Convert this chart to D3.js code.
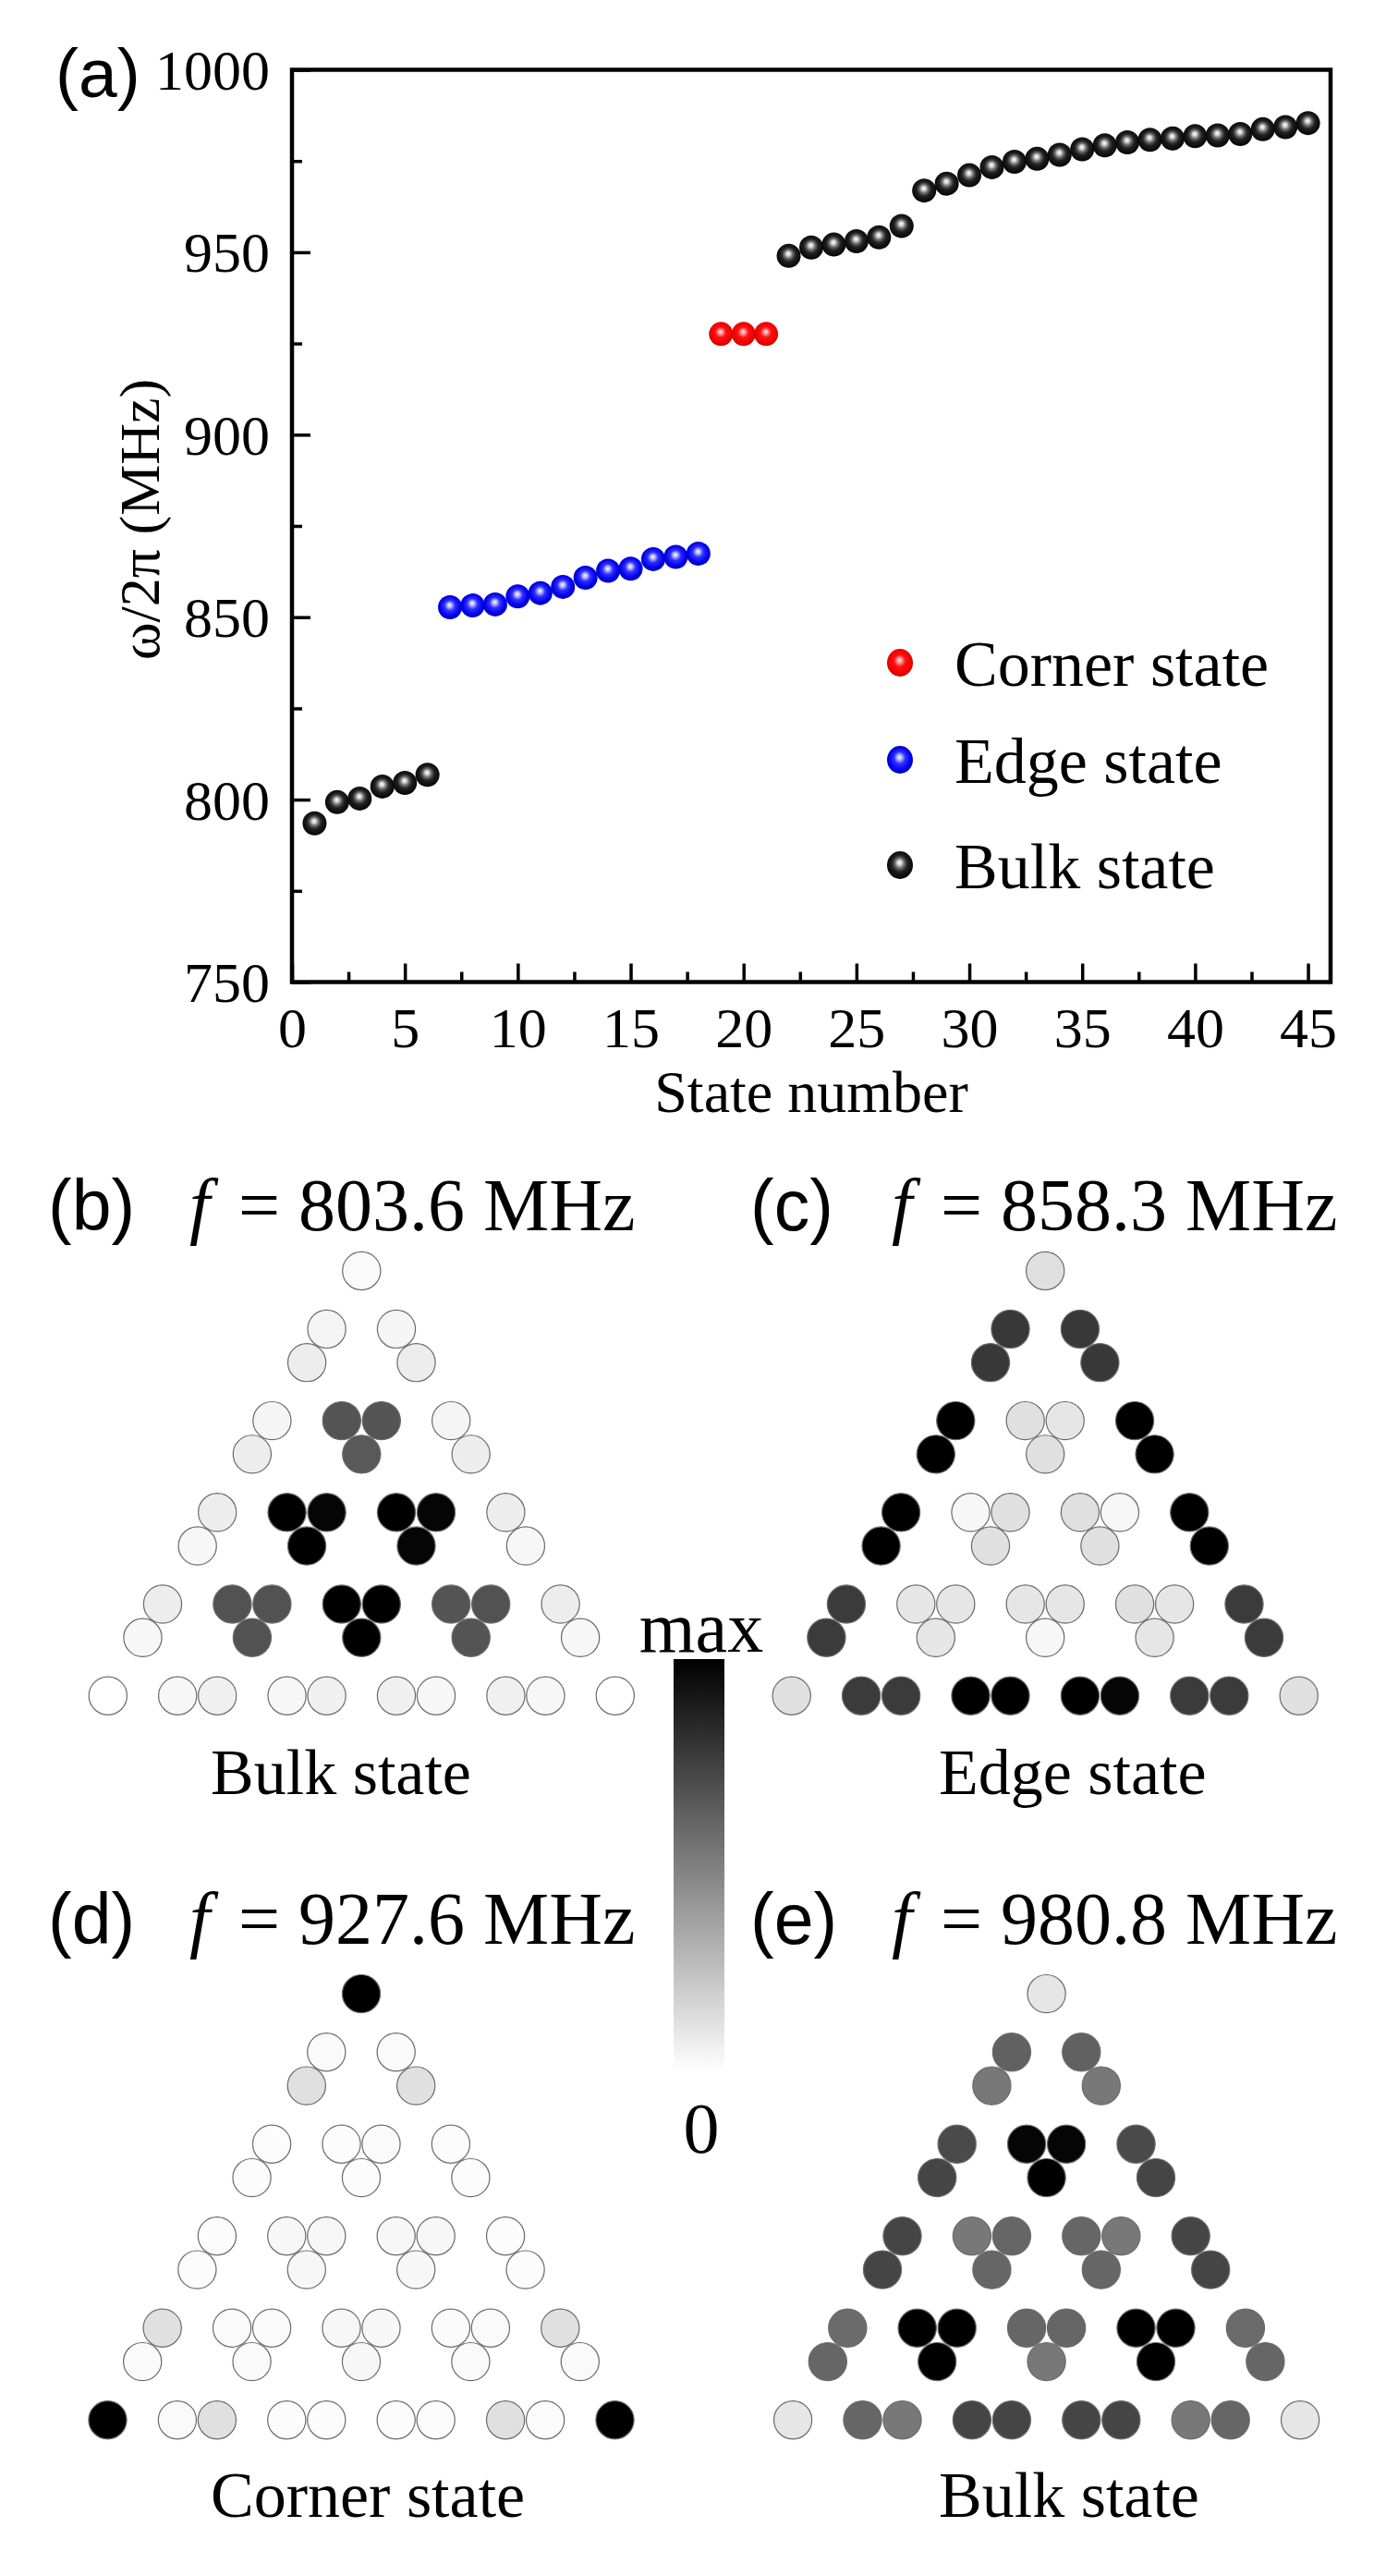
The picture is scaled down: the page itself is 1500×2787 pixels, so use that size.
<!DOCTYPE html>
<html><head><meta charset="utf-8">
<script src="https://cdn.jsdelivr.net/npm/d3@7"></script>
<style>body{margin:0;background:#fff}</style>
</head><body>
<svg id="fig" width="1500" height="2787" xmlns="http://www.w3.org/2000/svg"></svg>
<script>
// ---------------- DATA ----------------
const stateNumbers = [1,2,3,4,5,6,7,8,9,10,11,12,13,14,15,16,17,18,19,20,21,22,23,24,25,26,27,28,29,30,31,32,33,34,35,36,37,38,39,40,41,42,43,44,45];
const stateFreqs = [793.5,799.3,800.3,803.6,804.6,806.8,
  852.7,853.2,853.5,855.7,856.6,858.3,860.8,862.7,863.3,865.9,866.5,867.4,
  927.6,927.6,927.6,
  949.0,951.3,952.1,953.0,954.1,957.2,966.9,968.8,971.1,973.3,974.8,975.6,976.7,978.2,979.3,980.1,980.8,981.2,981.8,982.0,982.4,983.7,984.3,985.4];
const cornerStates = [19,20,21];
const edgeStates = [7,8,9,10,11,12,13,14,15,16,17,18];
const legendLabels = ["Corner state","Edge state","Bulk state"];
const legendKinds = ["corner","edge","bulk"];
const xTickValues = [0,5,10,15,20,25,30,35,40,45];
const xMinorTicks = [2.5,7.5,12.5,17.5,22.5,27.5,32.5,37.5,42.5];
const yTickValues = [750,800,850,900,950,1000];
const yMinorTicks = [775,825,875,925,975];

const panelLetters = ["(b)","(c)","(d)","(e)"];
const panelFreqs = ["803.6","858.3","927.6","980.8"];
const panelNames = ["Bulk state","Edge state","Corner state","Bulk state"];
// site amplitudes (0 = white, 1 = max), ordered row by row (upper sites then lower sites)
const ampB = [0.02,
  0.04,0.04, 0.07,0.07,
  0.04,0.67,0.67,0.04, 0.07,0.65,0.07,
  0.07,1.0,0.98,1.0,0.98,0.07, 0.03,1.0,0.98,0.03,
  0.07,0.68,0.68,1.0,1.0,0.67,0.68,0.07, 0.03,0.68,1.0,0.67,0.03,
  0.0,0.03,0.06,0.03,0.06,0.06,0.03,0.06,0.03,0.0];
const ampC = [0.12,
  0.78,0.78, 0.78,0.78,
  1.0,0.12,0.10,1.0, 1.0,0.12,1.0,
  1.0,0.03,0.12,0.12,0.03,1.0, 1.0,0.12,0.12,1.0,
  0.77,0.10,0.10,0.10,0.10,0.12,0.10,0.77, 0.77,0.10,0.03,0.10,0.77,
  0.12,0.77,0.77,1.0,1.0,1.0,0.98,0.77,0.77,0.12];
const ampD = [1.0,
  0.02,0.02, 0.12,0.12,
  0.01,0.01,0.02,0.01, 0.01,0.01,0.01,
  0.01,0.03,0.03,0.03,0.03,0.01, 0.01,0.03,0.03,0.01,
  0.12,0.02,0.02,0.03,0.03,0.02,0.02,0.12, 0.02,0.02,0.03,0.02,0.02,
  1.0,0.02,0.12,0.01,0.01,0.01,0.01,0.12,0.01,1.0];
const ampE = [0.10,
  0.62,0.62, 0.53,0.53,
  0.71,0.98,0.98,0.71, 0.73,1.0,0.73,
  0.73,0.53,0.60,0.60,0.53,0.73, 0.73,0.60,0.60,0.73,
  0.58,1.0,1.0,0.60,0.60,1.0,1.0,0.58, 0.60,1.0,0.53,1.0,0.60,
  0.10,0.60,0.53,0.73,0.73,0.73,0.73,0.53,0.60,0.10];
const panelAmps = [ampB, ampC, ampD, ampE];

// ---------------- STYLE / LAYOUT ----------------
const SERIF = "'Liberation Serif','Times New Roman',serif";
const SANS = "'Liberation Sans',Arial,sans-serif";
const svg = d3.select("#fig");
svg.append("rect").attr("width",1500).attr("height",2787).attr("fill","#fff");

const defs = svg.append("defs");
function sphere(id, stops){
  const g = defs.append("radialGradient").attr("id",id)
    .attr("cx","50%").attr("cy","48%").attr("r","55%").attr("fx","48%").attr("fy","40%");
  stops.forEach(s=>g.append("stop").attr("offset",s[0]).attr("stop-color",s[1]));
}
sphere("g-bulk",[["0%","#ffffff"],["16%","#d0d0d0"],["32%","#707070"],["55%","#202020"],["100%","#000000"]]);
sphere("g-edge",[["0%","#ffffff"],["18%","#b0b0ff"],["40%","#3030ff"],["75%","#0000ee"],["100%","#0000a8"]]);
sphere("g-corner",[["0%","#fff0f0"],["18%","#ff9090"],["40%","#ff1010"],["80%","#ee0000"],["100%","#b00000"]]);
const kindOf = n => cornerStates.includes(n) ? "corner" : (edgeStates.includes(n) ? "edge" : "bulk");

// ---------------- PANEL (a) ----------------
const x = d3.scaleLinear().domain([0,46]).range([316,1440]);
const y = d3.scaleLinear().domain([750,1000]).range([1062.5,75.5]);

const gx = svg.append("g").attr("transform",`translate(0,${y(750)})`)
  .call(d3.axisBottom(x).tickValues(xTickValues).tickSizeInner(-20).tickSizeOuter(0).tickPadding(26).tickFormat(d3.format("d")));
const gxm = svg.append("g").attr("transform",`translate(0,${y(750)})`)
  .call(d3.axisBottom(x).tickValues(xMinorTicks).tickSizeInner(-11).tickSizeOuter(0).tickFormat(""));
const gy = svg.append("g").attr("transform",`translate(${x(0)},0)`)
  .call(d3.axisLeft(y).tickValues(yTickValues).tickSizeInner(-20).tickSizeOuter(0).tickPadding(24).tickFormat(d3.format("d")));
const gym = svg.append("g").attr("transform",`translate(${x(0)},0)`)
  .call(d3.axisLeft(y).tickValues(yMinorTicks).tickSizeInner(-11).tickSizeOuter(0).tickFormat(""));
[gx,gxm,gy,gym].forEach(g=>{
  g.select(".domain").remove();
  g.selectAll("line").attr("stroke","#000").attr("stroke-width",3.5);
  g.selectAll("text").attr("font-family",SERIF).attr("font-size",62).attr("fill","#000");
});
gy.selectAll("text").attr("dy","0.34em");

// frame
svg.append("rect").attr("x",x(0)).attr("y",y(1000)).attr("width",x(46)-x(0)).attr("height",y(750)-y(1000))
  .attr("fill","none").attr("stroke","#000").attr("stroke-width",4.5);

// points
svg.append("g").selectAll("circle").data(stateNumbers).join("circle")
  .attr("cx",d=>x(d)).attr("cy",(d,i)=>y(stateFreqs[i])).attr("r",13)
  .attr("fill",d=>`url(#g-${kindOf(d)})`);

// axis titles
svg.append("text").attr("x",878).attr("y",1203).attr("text-anchor","middle")
  .attr("font-family",SERIF).attr("font-size",64).text("State number");
svg.append("text").attr("transform","translate(150,562) rotate(-90)").attr("text-anchor","middle").attr("dy","0.35em")
  .attr("font-family",SERIF).attr("font-size",62).text("ω/2π (MHz)");
svg.append("text").attr("x",60).attr("y",105).attr("font-family",SANS).attr("font-size",75).text("(a)");

// legend
const legendY = [717,822,936];
const lg = svg.append("g").selectAll("g").data(legendLabels).join("g")
  .attr("transform",(d,i)=>`translate(974,${legendY[i]})`);
lg.append("ellipse").attr("rx",14).attr("ry",15).attr("fill",(d,i)=>`url(#g-${legendKinds[i]})`);
lg.append("text").attr("x",59).attr("y",25).attr("font-family",SERIF).attr("font-size",70).text(d=>d);

// ---------------- PANELS (b)-(e) ----------------
const panelLayout = [
  {cx:391.3, y0:1338.7, lx:52, tb:1331, nx:228, nb:1941, dy:99.2},
  {cx:1131.2, y0:1338.7, lx:812, tb:1331, nx:1016, nb:1941, dy:99.2},
  {cx:391.0, y0:2120.7, lx:52, tb:2103, nx:228, nb:2723, dy:99.5},
  {cx:1132.6, y0:2120.7, lx:812, tb:2103, nx:1016, nb:2723, dy:99.5}
];
// lattice of trimers: row k (0..5) holds k+1 trimers; corner/edge trimers are truncated
const half = 0.1816, drop = 0.3656;
function sites(){
  const out = [];
  for(let k=0;k<=5;k++){
    for(let j=0;j<=k;j++){
      const u = j - k/2;
      if(k>0 && j>0) out.push({u:u-half, v:k});
      if(k>0 && j<k) out.push({u:u+half, v:k});
    }
    if(k<5) for(let j=0;j<=k;j++) out.push({u:j-k/2, v:k+drop});
  }
  return out;
}
const lattice = sites();
const gray = d3.scaleLinear().domain([0,1]).range(["#ffffff","#000000"]).interpolate(d3.interpolateRgb);

panelLayout.forEach((p,pi)=>{
  const xs = d3.scaleLinear().domain([0,1]).range([p.cx, p.cx+118.4]);
  const ys = d3.scaleLinear().domain([0,1]).range([p.y0, p.y0+p.dy]);
  const amps = panelAmps[pi];
  const g = svg.append("g");
  g.selectAll("circle").data(lattice).join("circle")
    .attr("cx",d=>xs(d.u)).attr("cy",d=>ys(d.v)).attr("r",20.6)
    .attr("fill",(d,i)=>gray(amps[i])).attr("stroke","#6a6a6a").attr("stroke-width",1.2);
  svg.append("text").attr("x",p.lx).attr("y",p.tb).attr("font-family",SANS).attr("font-size",77).text(panelLetters[pi]);
  svg.append("text").attr("x",p.lx+153).attr("y",p.tb).attr("font-family",SERIF).attr("font-style","italic").attr("font-size",80).text("f");
  svg.append("text").attr("x",p.lx+206).attr("y",p.tb).attr("font-family",SERIF).attr("font-size",80).text("= " + panelFreqs[pi] + " MHz");
  svg.append("text").attr("x",p.nx).attr("y",p.nb).attr("font-family",SERIF).attr("font-size",70).text(panelNames[pi]);
});

// colorbar
const cb = defs.append("linearGradient").attr("id","cbar").attr("x1",0).attr("y1",0).attr("x2",0).attr("y2",1);
cb.append("stop").attr("offset","0%").attr("stop-color",gray(1));
cb.append("stop").attr("offset","100%").attr("stop-color",gray(0));
svg.append("rect").attr("x",729).attr("y",1795).attr("width",55).attr("height",447).attr("fill","url(#cbar)");
svg.append("text").attr("x",759).attr("y",1787).attr("text-anchor","middle").attr("font-family",SERIF).attr("font-size",78).text("max");
svg.append("text").attr("x",759).attr("y",2329).attr("text-anchor","middle").attr("font-family",SERIF).attr("font-size",78).text("0");
</script>
</body></html>
